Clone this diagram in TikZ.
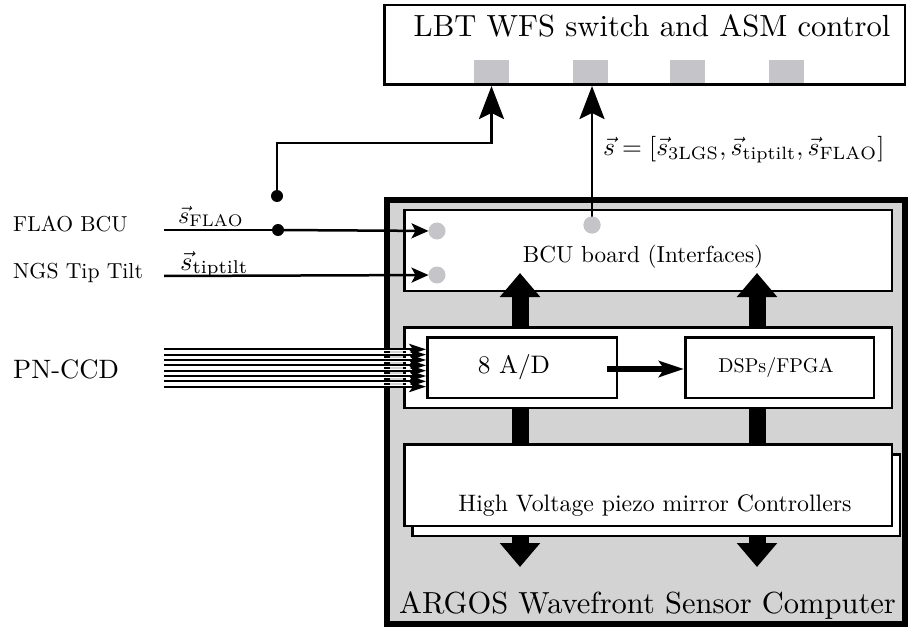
\RequirePackage{fix-cm}
\documentclass[tikz,border=0pt]{standalone}
\usepackage{fontspec}
\usetikzlibrary{arrows.meta}
\definecolor{bggray}{RGB}{211,211,211}
\definecolor{portgray}{RGB}{196,196,201}
\newcommand\sctxt[2]{\scalebox{#1}{#2}}
\begin{document}
\begin{tikzpicture}[x=1pt,y=-1pt,
  box/.style={draw, line width=2.5pt, fill=white, inner sep=0pt, anchor=north west},
  port/.style={fill=portgray, draw=none, inner sep=0pt, outer sep=0pt, anchor=north west, minimum width=35pt, minimum height=26pt},
  pin/.style={circle, fill=portgray, draw=none, inner sep=0pt, outer sep=0pt, minimum size=17pt},
  junct/.style={circle, fill=black, inner sep=0pt, outer sep=0pt, minimum size=12pt},
  txt/.style={inner sep=0pt, anchor=base},
  ltxt/.style={inner sep=0pt, anchor=base west},
  sig/.style={line width=2.5pt, -{Stealth[length=17pt,width=15pt,inset=4pt]}},
  uparrow/.style={line width=2.8pt, -{Stealth[length=33pt,width=25pt,inset=6pt]}},
  bus/.style={line width=17pt, -{Triangle[length=24pt,width=39pt]}},
  ccd/.style={line width=1.8pt, -{Stealth[length=17pt,width=11pt,inset=4pt]}, preaction={draw=white, line width=3.6pt, -}},
]
\useasboundingbox (0,0) rectangle (909,628);

% top LBT box
\node[port] (port1) at (474,60) {};
\node[port] (port2) at (573,60) {};
\node[port] (port3) at (670,60) {};
\node[port] (port4) at (769,60) {};
\node[box, fill=none, minimum width=520.5pt, minimum height=79.5pt] (lbt) at (383,4) {};
\node[txt] (lbttext) at (652,37) {\sctxt{3.06}{LBT WFS switch and ASM control}};

% ARGOS computer
\node[draw, line width=6pt, fill=bggray, inner sep=0pt, anchor=north west, minimum width=518pt, minimum height=424pt] (argos) at (384,197) {};
\node[txt] (argostext) at (647.5,613) {\sctxt{3.05}{ARGOS Wavefront Sensor Computer}};

% BCU board
\node[box, minimum width=487.5pt, minimum height=80.5pt] (bcu) at (403,209) {};
\node[txt] (bcutext) at (643,262) {\sctxt{2.32}{BCU board (Interfaces)}};
\node[pin] (pin1) at (437,231) {};
\node[pin] (pin2) at (437,275) {};
\node[pin] (pin3) at (592,225) {};

% ADC container
\node[box, minimum width=487.5pt, minimum height=80.5pt] (adc) at (403,326) {};
\node[box, minimum width=189.5pt, minimum height=60.5pt] (ad) at (426,336) {};
\node[box, minimum width=188.5pt, minimum height=60.5pt] (dsp) at (684,336) {};
\node[txt] (adtext) at (514,373) {\sctxt{2.53}{8 A/D}};
\node[txt] (dsptext) at (776,372) {\sctxt{2.0}{DSPs/FPGA}};
\coordinate (adout) at (607,369);
\draw[line width=6pt, -{Stealth[length=25pt,width=16pt,inset=5pt]}] (adout) -- (dsp.west |- adout);

% thick bus arrows
\coordinate (busL) at (520,0);
\coordinate (busR) at (757,0);
\draw[bus] (adc.south -| busL) -- ++(0,158);
\draw[bus] (adc.south -| busR) -- ++(0,158);
\draw[bus] (adc.north -| busL) -- ++(0,-53);
\draw[bus] (adc.north -| busR) -- ++(0,-53);

% HV controllers
\node[box, minimum width=487.5pt, minimum height=81.5pt] (hvback) at (411,453) {};
\node[box, minimum width=487.5pt, minimum height=81.5pt] (hv) at (403,443) {};
\node[txt] (hvtext) at (655,511) {\sctxt{2.38}{High Voltage piezo mirror Controllers}};

% output to LBT
\draw[uparrow] (pin3.center) -- (lbt.south -| pin3.center);
\node[pin] (pin3b) at (pin3) {};
\node[ltxt] (slabel) at (603,156) {\sctxt{2.55}{$\vec{s} = [\vec{s}_{\mathrm{3LGS}}, \vec{s}_{\mathrm{tiptilt}}, \vec{s}_{\mathrm{FLAO}}]$}};

% FLAO BCU input
\node[ltxt] (flaolbl) at (13,232) {\sctxt{2.16}{FLAO BCU}};
\node[ltxt] (ngslbl) at (13,278) {\sctxt{2.17}{NGS Tip Tilt}};
\node[ltxt] (sflao) at (178,223) {\sctxt{2.4}{$\vec{s}_{\mathrm{FLAO}}$}};
\node[ltxt] (stt) at (180,270) {\sctxt{2.65}{$\vec{s}_{\mathrm{tiptilt}}$}};
\coordinate (flaoin) at (164,230);
\coordinate (ttin) at (164,276);
\node[junct] (j1) at (278,230) {};
\node[junct] (j2) at (277,196) {};
\draw[line width=1.6pt] (flaoin) -- (j1.center);
\draw[sig] (j1.center) -- (pin1);
\draw[sig] (ttin) -- (pin2);
\draw[uparrow] (j2.center) -- ++(0,-53) -| (lbt.south -| port1.south);

% PN-CCD
\node[ltxt] (pnccd) at (13,378) {\sctxt{2.66}{PN-CCD}};
\foreach \i in {0,...,7} {
  \coordinate (ccd\i) at (164,{349.3+5.34*\i});
  \draw[ccd] (ccd\i) -- (ad.west |- ccd\i);
}
\end{tikzpicture}
\end{document}
